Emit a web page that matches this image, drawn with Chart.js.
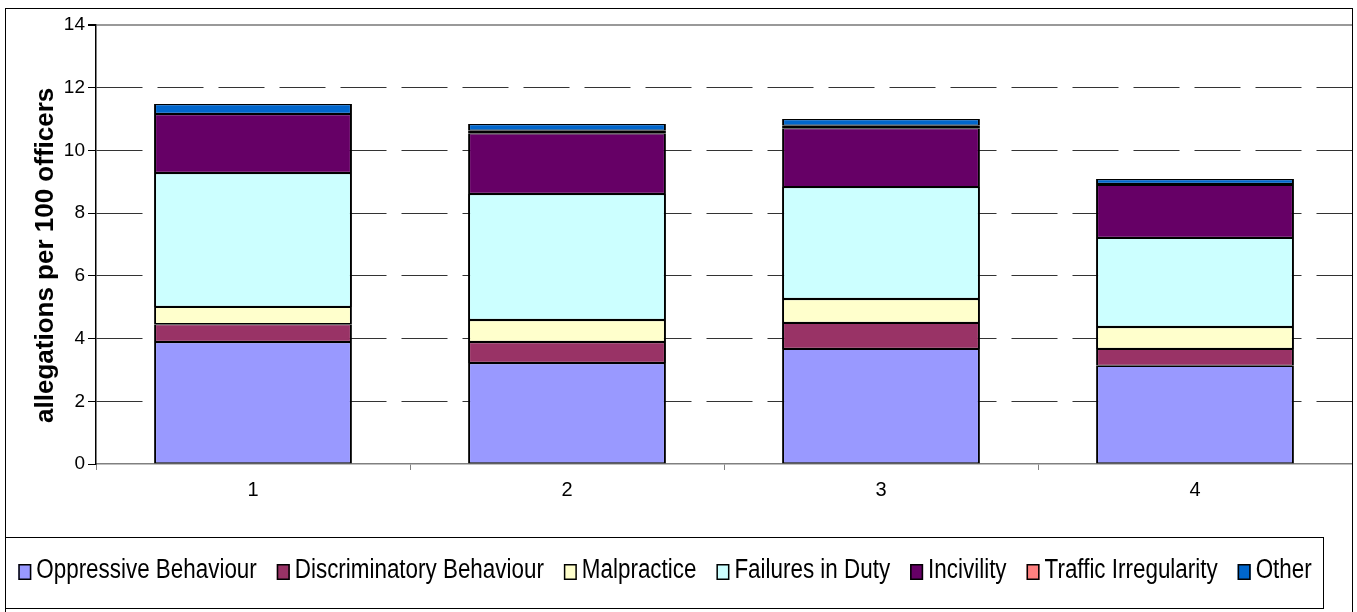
<!DOCTYPE html>
<html>
<head>
<meta charset="utf-8">
<script src="https://cdn.jsdelivr.net/npm/chart.js@4.4.1/dist/chart.umd.min.js"></script>
<style>
  html, body { margin: 0; padding: 0; background: #fff; overflow: hidden; }
  #wrap { width: 1357px; height: 612px; position: relative; }
</style>
</head>
<body>
<div id="wrap"><canvas id="allegChart"></canvas></div>
<script>
var categories = ['1', '2', '3', '4'];
var yTicks = [0, 2, 4, 6, 8, 10, 12, 14];

var oppressive     = [3.89, 3.22, 3.67, 3.13];
var discriminatory = [0.57, 0.67, 0.83, 0.54];
var malpractice    = [0.55, 0.70, 0.76, 0.70];
var failures       = [4.27, 4.02, 3.57, 2.84];
var incivility     = [1.88, 1.94, 1.88, 1.69];
var traffic        = [0.00, 0.08, 0.08, 0.03];
var other          = [0.32, 0.21, 0.21, 0.16];

var seriesNames = ['Oppressive Behaviour', 'Discriminatory Behaviour', 'Malpractice',
                   'Failures in Duty', 'Incivility', 'Traffic Irregularity', 'Other'];
var seriesData = [oppressive, discriminatory, malpractice, failures, incivility, traffic, other];
var seriesColors = ['#9999FF', '#993366', '#FFFFCC', '#CCFFFF', '#660066', '#FF8080', '#0066CC'];

var sans = '"Liberation Sans", Arial, sans-serif';

var datasets = seriesNames.map(function(name, i) {
  // the tiny traffic slice shows as a solid black band in the original
  var tb = name === 'Traffic Irregularity' ? 2 : 1.2;
  return {
    label: name,
    data: seriesData[i],
    backgroundColor: seriesColors[i],
    borderColor: '#000',
    borderWidth: { left: 2, right: 2, top: tb, bottom: tb },
    borderSkipped: false,
    barPercentage: 0.63,
    categoryPercentage: 1.0
  };
});

/* outer frame, legend box and a condensed Excel-like legend */
var framePlugin = {
  id: 'excelFrame',
  afterDraw: function(chart) {
    var c = chart.ctx;
    c.save();
    c.strokeStyle = '#000';
    c.lineWidth = 1;
    c.strokeRect(5.5, 8.5, 1347, 640);
    c.strokeRect(5.5, 537.5, 1318, 71);

    var sx = 0.83;
    c.font = '27px ' + sans;
    c.textBaseline = 'alphabetic';
    var markW = 13, markH = 16, gapIn = 5, gapOut = 20;
    var items = chart.data.datasets.map(function(ds) {
      return { text: ds.label, color: ds.backgroundColor, w: c.measureText(ds.label).width * sx };
    });
    var total = 0;
    items.forEach(function(it, i) {
      total += markW + gapIn + it.w + (i ? gapOut : 0);
    });
    var x = 665 - total / 2;
    items.forEach(function(it) {
      c.fillStyle = it.color;
      c.fillRect(x, 564, markW, markH);
      c.strokeStyle = '#000';
      c.lineWidth = 1.5;
      c.strokeRect(x + 0.75, 564.75, markW - 1.5, markH - 1.5);
      c.save();
      c.translate(x + markW + gapIn, 578);
      c.scale(sx, 1);
      c.fillStyle = '#000';
      c.fillText(it.text, 0, 0);
      c.restore();
      x += markW + gapIn + it.w + gapOut;
    });
    c.restore();
  }
};

new Chart(document.getElementById('allegChart'), {
  type: 'bar',
  data: { labels: categories, datasets: datasets },
  options: {
    responsive: true,
    maintainAspectRatio: false,
    animation: false,
    layout: { padding: { top: 25, right: 5, bottom: 108, left: 0 } },
    plugins: {
      legend: { display: false },
      tooltip: { enabled: false }
    },
    scales: {
      x: {
        stacked: true,
        afterFit: function(s) { s.height = 40; },
        grid: {
          offset: true,
          drawOnChartArea: false,
          drawTicks: true,
          tickLength: 6,
          tickColor: '#808080',
          color: '#808080'
        },
        border: { color: '#808080', width: 1.5 },
        ticks: {
          font: { size: 20, family: sans },
          color: '#000',
          padding: 8
        }
      },
      y: {
        stacked: true,
        min: 0,
        max: 14,
        afterFit: function(s) { s.width = 96; },
        afterBuildTicks: function(axis) {
          axis.ticks = yTicks.map(function(v) { return { value: v }; });
        },
        grid: {
          drawTicks: true,
          tickLength: 8,
          tickColor: '#000',
          tickBorderDash: [],
          lineWidth: function(ctx) { return ctx.tick && ctx.tick.value === 14 ? 2 : 1; },
          color: function(ctx) {
            if (!ctx.tick || ctx.tick.value === 0) return 'rgba(0,0,0,0)';
            return ctx.tick.value === 14 ? '#999999' : '#333333';
          }
        },
        border: {
          color: '#000',
          width: 1.5,
          dash: function(ctx) {
            return ctx.tick && ctx.tick.value !== 14 ? [46, 15] : [];
          }
        },
        ticks: {
          font: { size: 19, family: sans },
          color: '#000',
          padding: 3
        },
        title: {
          display: true,
          text: 'allegations per 100 officers   ',
          font: { size: 26, weight: 'bold', family: sans },
          color: '#000',
          padding: { top: 30, bottom: 0 }
        }
      }
    }
  },
  plugins: [framePlugin]
});
</script>
</body>
</html>
